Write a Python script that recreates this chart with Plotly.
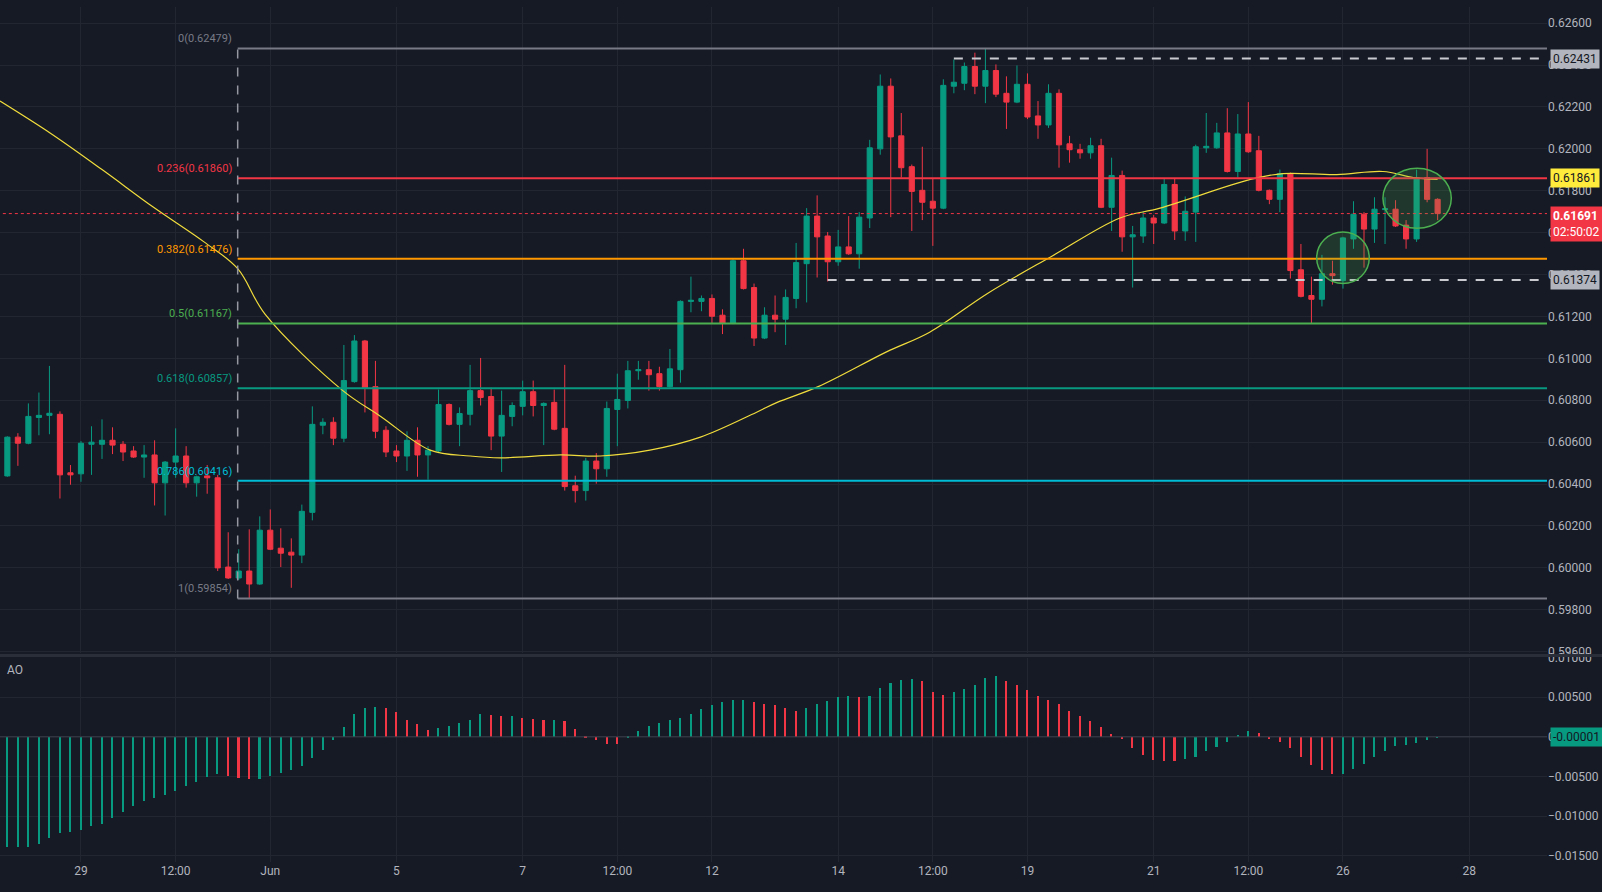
import plotly.graph_objects as go
from plotly.subplots import make_subplots

# 4H candles, index 0..136
opens = [0.60439,0.60624,0.60595,0.60718,0.60728,0.60733,0.60454,0.60449,0.60590,0.60590,
         0.60609,0.60590,0.60558,0.60529,0.60539,0.60406,0.60505,0.60534,0.60406,0.60439,
         0.60430,0.60004,0.59952,0.59985,0.59923,0.60180,0.60094,0.60075,0.60061,0.60265,
         0.60681,0.60695,0.60619,0.60889,0.61083,0.60865,0.60657,0.60558,0.60534,0.60609,
         0.60539,0.60558,0.60780,0.60685,0.60733,0.60846,0.60818,0.60629,0.60723,0.60771,
         0.60841,0.60775,0.60790,0.60666,0.60392,0.60369,0.60510,0.60473,0.60756,0.60799,
         0.60941,0.60946,0.60927,0.60865,0.60946,0.61272,0.61272,0.61286,0.61206,0.61168,
         0.61466,0.61338,0.61097,0.61206,0.61187,0.61286,0.61452,0.61679,0.61584,0.61461,
         0.61532,0.61499,0.61670,0.62000,0.62299,0.62062,0.61915,0.61802,0.61750,0.61717,
         0.62299,0.62313,0.62393,0.62299,0.62374,0.62265,0.62223,0.62308,0.62157,0.62114,
         0.62265,0.62024,0.61996,0.61981,0.62015,0.61721,0.61873,0.61580,0.61584,0.61670,
         0.61646,0.61830,0.61608,0.61698,0.62005,0.62005,0.62076,0.61892,0.62071,0.61991,
         0.61802,0.61759,0.61882,0.61423,0.61300,0.61282,0.61404,0.61371,0.61570,0.61688,
         0.61617,0.61710,0.61712,0.61636,0.61570,0.61863,0.61759]
highs = [0.60628,0.60643,0.60785,0.60837,0.60964,0.60747,0.60491,0.60605,0.60676,0.60709,
         0.60671,0.60605,0.60581,0.60586,0.60609,0.60510,0.60666,0.60581,0.60440,0.60491,
         0.60444,0.60170,0.60089,0.60184,0.60246,0.60279,0.60189,0.60141,0.60302,0.60771,
         0.60714,0.60719,0.61064,0.61111,0.61088,0.60988,0.60676,0.60586,0.60652,0.60671,
         0.60581,0.60851,0.60785,0.60766,0.60969,0.61002,0.60860,0.60846,0.60790,0.60894,
         0.60894,0.60790,0.60851,0.60969,0.60440,0.60525,0.60548,0.60794,0.60927,0.60988,
         0.60988,0.60988,0.60960,0.61045,0.61277,0.61390,0.61300,0.61305,0.61234,0.61475,
         0.61523,0.61357,0.61244,0.61300,0.61329,0.61551,0.61717,0.61778,0.61603,0.61613,
         0.61679,0.61698,0.62043,0.62355,0.62336,0.62171,0.61925,0.62010,0.61859,0.62332,
         0.62426,0.62412,0.62459,0.62479,0.62403,0.62346,0.62398,0.62360,0.62228,0.62308,
         0.62284,0.62062,0.62024,0.62053,0.62048,0.61958,0.61896,0.61632,0.61702,0.61684,
         0.61859,0.61859,0.61773,0.62020,0.62171,0.62124,0.62194,0.62166,0.62223,0.62062,
         0.61806,0.61901,0.61887,0.61546,0.61390,0.61494,0.61466,0.61580,0.61750,0.61698,
         0.61769,0.61769,0.61755,0.61660,0.61901,0.62000,0.61764]
lows = [0.60435,0.60487,0.60590,0.60633,0.60638,0.60331,0.60397,0.60411,0.60444,0.60520,
        0.60543,0.60510,0.60525,0.60430,0.60298,0.60250,0.60430,0.60383,0.60340,0.60354,
        0.59985,0.59947,0.59942,0.59854,0.59919,0.60085,0.60004,0.59905,0.60023,0.60227,
        0.60638,0.60586,0.60600,0.60884,0.60742,0.60619,0.60529,0.60505,0.60463,0.60435,
        0.60421,0.60548,0.60680,0.60581,0.60680,0.60775,0.60562,0.60458,0.60676,0.60728,
        0.60723,0.60586,0.60657,0.60369,0.60312,0.60321,0.60402,0.60435,0.60581,0.60761,
        0.60898,0.60846,0.60846,0.60860,0.60884,0.61220,0.61225,0.61168,0.61116,0.61163,
        0.61329,0.61059,0.61092,0.61125,0.61064,0.61239,0.61267,0.61386,0.61367,0.61442,
        0.61494,0.61428,0.61622,0.61972,0.61674,0.61863,0.61608,0.61660,0.61537,0.61712,
        0.62265,0.62280,0.62261,0.62218,0.62247,0.62095,0.62218,0.62142,0.62048,0.62100,
        0.61910,0.61934,0.61953,0.61953,0.61717,0.61608,0.61509,0.61338,0.61551,0.61546,
        0.61641,0.61565,0.61561,0.61556,0.61981,0.62000,0.61887,0.61863,0.61981,0.61797,
        0.61736,0.61698,0.61381,0.61291,0.61168,0.61248,0.61352,0.61333,0.61523,0.61433,
        0.61551,0.61546,0.61627,0.61523,0.61556,0.61745,0.61660]
closes = [0.60624,0.60595,0.60723,0.60728,0.60738,0.60444,0.60444,0.60595,0.60600,0.60609,
          0.60586,0.60553,0.60529,0.60539,0.60406,0.60505,0.60534,0.60406,0.60435,0.60430,
          0.60000,0.59952,0.59985,0.59923,0.60180,0.60089,0.60070,0.60061,0.60270,0.60685,
          0.60695,0.60619,0.60894,0.61083,0.60860,0.60652,0.60553,0.60534,0.60609,0.60539,
          0.60562,0.60780,0.60685,0.60737,0.60846,0.60813,0.60629,0.60728,0.60775,0.60841,
          0.60775,0.60785,0.60662,0.60388,0.60369,0.60510,0.60473,0.60761,0.60804,0.60941,
          0.60946,0.60922,0.60865,0.60950,0.61272,0.61277,0.61286,0.61201,0.61168,0.61466,
          0.61333,0.61097,0.61206,0.61187,0.61291,0.61457,0.61679,0.61580,0.61461,0.61532,
          0.61499,0.61674,0.62005,0.62299,0.62057,0.61910,0.61797,0.61745,0.61717,0.62303,
          0.62318,0.62393,0.62299,0.62374,0.62261,0.62223,0.62308,0.62152,0.62114,0.62265,
          0.62019,0.61996,0.61981,0.62015,0.61721,0.61873,0.61580,0.61590,0.61670,0.61646,
          0.61830,0.61608,0.61702,0.62010,0.62012,0.62076,0.61892,0.62071,0.61986,0.61802,
          0.61759,0.61882,0.61419,0.61296,0.61282,0.61404,0.61395,0.61575,0.61688,0.61617,
          0.61712,0.61714,0.61632,0.61570,0.61863,0.61759,0.61691]

# 50-period moving average, read at sample points (candle index, price)
ma_x = [-0.7, 4.2, 9.0, 13.9, 18.7, 21.9, 24.5, 31.9, 35.5, 40.2, 44.0, 46.9, 52.6, 56.4,
        61.1, 65.9, 71.2, 73.2, 77.1, 83.6, 87.7, 93.2, 99.4, 105.8, 109.6, 118.2, 121.3,
        126.4, 130.8, 133.7, 136.0]
ma_y = [0.62228, 0.62071, 0.61901, 0.61721, 0.61556, 0.61428, 0.61211, 0.60846, 0.60723,
        0.60562, 0.60534, 0.60525, 0.60539, 0.60534, 0.60562, 0.60624, 0.60742, 0.60790,
        0.60865, 0.61031, 0.61125, 0.61310, 0.61490, 0.61670, 0.61717, 0.61854, 0.61882,
        0.61877, 0.61892, 0.61863, 0.61854]

ao = [-0.01389,-0.01389,-0.01389,-0.01347,-0.01276,-0.01213,-0.01193,-0.01168,-0.01126,-0.01097,
      -0.01026,-0.00942,-0.00867,-0.00805,-0.00763,-0.00734,-0.00676,-0.00617,-0.00567,-0.00500,
      -0.00463,-0.00484,-0.00513,-0.00525,-0.00525,-0.00492,-0.00450,-0.00413,-0.00367,-0.00263,
      -0.00167,-0.00033,0.00133,0.00288,0.00363,0.00384,0.00371,0.00321,0.00217,0.00163,
      0.00096,0.00121,0.00146,0.00175,0.00221,0.00288,0.00279,0.00263,0.00271,0.00246,
      0.00234,0.00221,0.00221,0.00209,0.00108,0.00021,-0.00033,-0.00083,-0.00088,0.00008,
      0.00083,0.00146,0.00184,0.00213,0.00238,0.00296,0.00355,0.00409,0.00446,0.00471,
      0.00471,0.00446,0.00425,0.00409,0.00375,0.00329,0.00375,0.00421,0.00459,0.00509,
      0.00525,0.00513,0.00521,0.00621,0.00684,0.00721,0.00738,0.00709,0.00571,0.00538,
      0.00571,0.00605,0.00659,0.00746,0.00767,0.00713,0.00659,0.00596,0.00521,0.00471,
      0.00421,0.00334,0.00267,0.00209,0.00133,0.00042,-0.00025,-0.00138,-0.00230,-0.00284,
      -0.00296,-0.00305,-0.00275,-0.00255,-0.00171,-0.00125,-0.00063,0.00029,0.00083,0.00058,
      -0.00021,-0.00063,-0.00138,-0.00255,-0.00346,-0.00409,-0.00463,-0.00463,-0.00396,-0.00338,
      -0.00255,-0.00179,-0.00117,-0.00096,-0.00075,-0.00040,-0.00001]

fib_levels = [0, 0.236, 0.382, 0.5, 0.618, 0.786, 1]
fib_prices = [0.62479, 0.61860, 0.61476, 0.61167, 0.60857, 0.60416, 0.59854]
fib_colors = ['#787b86', '#f23645', '#ff9800', '#4caf50', '#089981', '#00bcd4', '#787b86']
fib_start = 21.9

tick_idx = [7, 16, 25, 37, 49, 58, 67, 79, 88, 97, 109, 118, 127, 139]
tick_txt = ['29', '12:00', 'Jun', '5', '7', '12:00', '12', '14', '12:00', '19', '21', '12:00', '26', '28']

BG = '#161a25'
GRID = '#222631'
TXT = '#b2b5be'
UP, DN = '#089981', '#f23645'

n = len(closes)
xs = list(range(n))

fig = make_subplots(rows=2, cols=1, shared_xaxes=True, vertical_spacing=0.005,
                    row_heights=[0.756, 0.239])

fig.add_trace(go.Candlestick(x=xs, open=opens, high=highs, low=lows, close=closes,
                             increasing=dict(line=dict(color=UP, width=1), fillcolor=UP),
                             decreasing=dict(line=dict(color=DN, width=1), fillcolor=DN),
                             whiskerwidth=0, hoverinfo='skip'), row=1, col=1)
fig.add_trace(go.Scatter(x=ma_x, y=ma_y, mode='lines', line=dict(color='#f0dc3c', width=1.2, shape='spline'),
                         hoverinfo='skip'), row=1, col=1)

ao_colors = [UP if i == 0 or ao[i] >= ao[i - 1] else DN for i in range(n)]
fig.add_trace(go.Bar(x=xs, y=ao, marker=dict(color=ao_colors, line=dict(width=0)), width=0.15,
                     hoverinfo='skip'), row=2, col=1)

shapes = []
for lev, pr, col in zip(fib_levels, fib_prices, fib_colors):
    shapes.append(dict(type='line', xref='x', yref='y', x0=fib_start, x1=146.4, y0=pr, y1=pr,
                       line=dict(color=col, width=2)))
    fig.add_annotation(x=fib_start, y=pr, xref='x', yref='y', text=f'{lev}({pr:.5f})',
                       showarrow=False, xanchor='right', yanchor='bottom', xshift=-4, yshift=1,
                       font=dict(color=col, size=11))
shapes.append(dict(type='line', xref='x', yref='y', x0=fib_start, x1=fib_start,
                   y0=fib_prices[-1], y1=fib_prices[0], line=dict(color='#9598a1', width=1.5, dash='dash')))
shapes.append(dict(type='line', xref='x', yref='y', x0=90, x1=146.4, y0=0.62431, y1=0.62431,
                   line=dict(color='#c8cad0', width=2, dash='dash')))
shapes.append(dict(type='line', xref='x', yref='y', x0=78, x1=146.4, y0=0.61374, y1=0.61374,
                   line=dict(color='#c8cad0', width=2, dash='dash')))
shapes.append(dict(type='line', xref='x', yref='y', x0=-1, x1=146.4, y0=closes[-1], y1=closes[-1],
                   line=dict(color=DN, width=1, dash='dot')))
shapes.append(dict(type='circle', xref='x', yref='y', x0=124.5, x1=129.5, y0=0.61357, y1=0.61603,
                   fillcolor='rgba(76,175,80,0.2)', line=dict(color='#4caf50', width=1.5)))
shapes.append(dict(type='circle', xref='x', yref='y', x0=130.8, x1=137.3, y0=0.61621, y1=0.61907,
                   fillcolor='rgba(76,175,80,0.2)', line=dict(color='#4caf50', width=1.5)))
shapes.append(dict(type='line', xref='x2', yref='y2', x0=-1, x1=146.4, y0=0, y1=0,
                   line=dict(color='#3a3e4a', width=1)))
shapes.append(dict(type='line', xref='paper', yref='paper', x0=0, x1=1.04, y0=0.2415, y1=0.2415,
                   line=dict(color='#2a2e39', width=3)))

# price tags on the right axis
tags = [(0.62431, '0.62431', '#b2b5be', '#131722', 'y'),
        (0.61861, '0.61861', '#ffeb3b', '#131722', 'y'),
        (0.61374, '0.61374', '#b2b5be', '#131722', 'y'),
        (ao[-1], f'{ao[-1]:.5f}', UP, '#131722', 'y2')]
for val, txt, bg, fc, yr in tags:
    fig.add_annotation(x=1, y=val, xref='paper', yref=yr, text=txt, showarrow=False,
                       xanchor='left', yanchor='middle', bgcolor=bg, font=dict(color=fc, size=12),
                       borderpad=2, xshift=3)
fig.add_annotation(x=1, y=closes[-1], xref='paper', yref='y', text=f'<b>{closes[-1]:.5f}</b><br>02:50:02',
                   showarrow=False, xanchor='left', yanchor='top', yshift=8, bgcolor=DN, align='left',
                   font=dict(color='white', size=12), borderpad=2, xshift=3)
fig.add_annotation(x=0.003, y=0.985, xref='paper', yref='y2 domain', text='AO', showarrow=False,
                   xanchor='left', yanchor='top', font=dict(color=TXT, size=12))

fig.update_layout(
    width=1602, height=892, paper_bgcolor=BG, plot_bgcolor=BG, showlegend=False,
    margin=dict(l=0, r=55, t=0, b=30), shapes=shapes, hovermode=False,
    font=dict(family='Roboto, Noto Sans, sans-serif', color=TXT, size=12),
    bargap=0,
)
fig.update_xaxes(range=[-0.7, 146.4], showgrid=True, gridcolor=GRID, zeroline=False,
                 tickvals=tick_idx, ticktext=tick_txt, rangeslider_visible=False,
                 showline=False, ticks='', tickfont=dict(color=TXT, size=12))
fig.update_xaxes(showticklabels=False, row=1, col=1)
fig.update_yaxes(side='right', range=[0.59592, 0.62677], dtick=0.002, tick0=0.596,
                 tickformat='.5f', gridcolor=GRID, zeroline=False, showline=False, ticks='',
                 row=1, col=1)
fig.update_yaxes(side='right', range=[-0.0158, 0.0100], dtick=0.005, tick0=0,
                 tickformat='.5f', gridcolor=GRID, zeroline=False, showline=False, ticks='',
                 row=2, col=1)

fig.write_html("out.html", config={'displayModeBar': False},
               post_script="document.body.style.margin='0';document.body.style.background='#161a25';"
                           "document.body.style.overflow='hidden';")
